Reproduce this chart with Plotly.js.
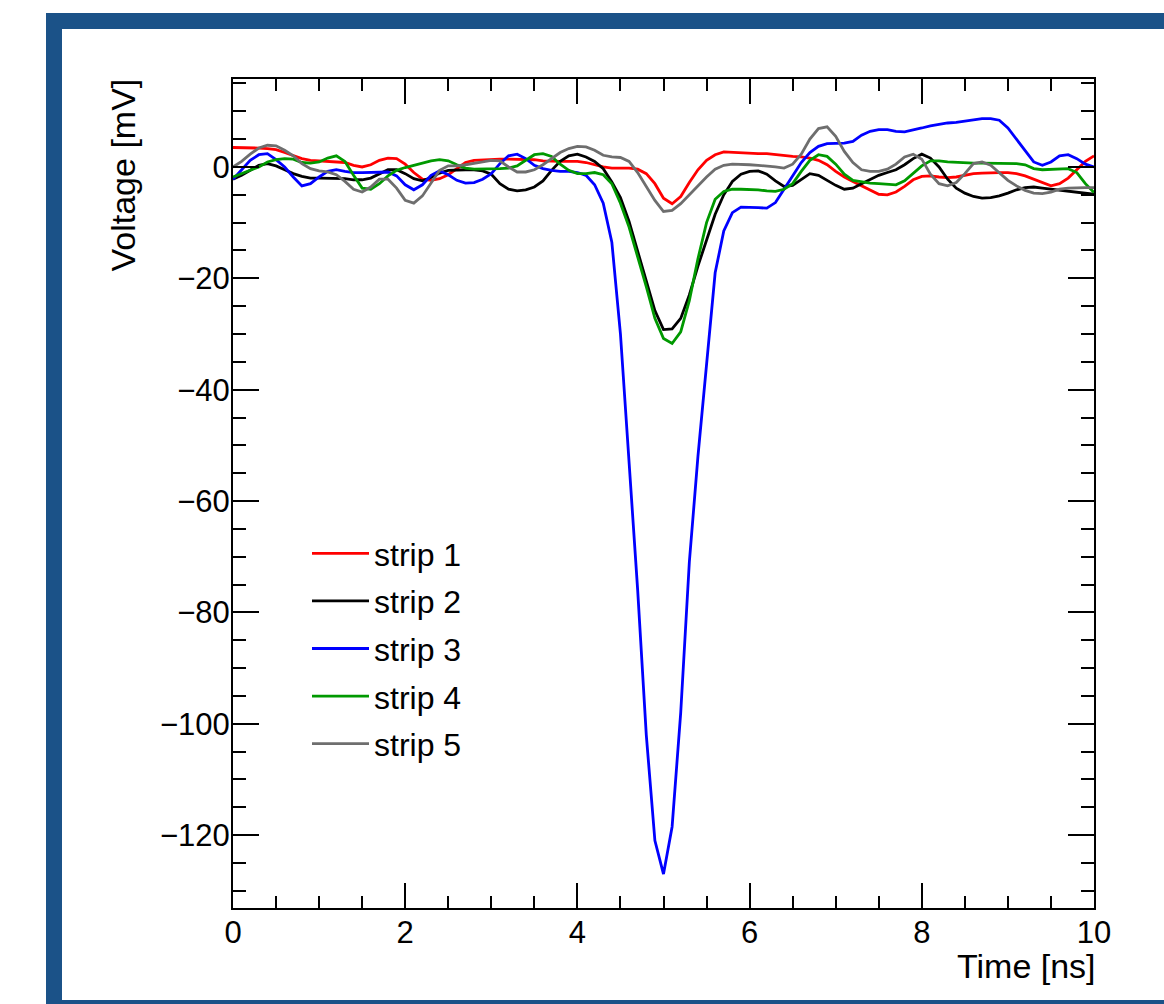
<!DOCTYPE html>
<html>
<head>
<meta charset="utf-8">
<script src="https://cdn.plot.ly/plotly-3.0.1.min.js"></script>
<style>
  html, body { margin: 0; padding: 0; background: #ffffff; overflow: hidden; width: 1164px; height: 1004px; }
  #frame { position: absolute; left: 46px; top: 13px; width: 1200px; height: 971px; border: 16px solid #1b5288; background: #ffffff; }
  #chart { position: absolute; left: 0; top: 0; width: 1164px; height: 1004px; }
</style>
</head>
<body>
<div id="frame"></div>
<div id="chart"></div>
<script>
const time = [0.0,0.1,0.2,0.3,0.4,0.5,0.6,0.7,0.8,0.9,
  1.0,1.1,1.2,1.3,1.4,1.5,1.6,1.7,1.8,1.9,
  2.0,2.1,2.2,2.3,2.4,2.5,2.6,2.7,2.8,2.9,
  3.0,3.1,3.2,3.3,3.4,3.5,3.6,3.7,3.8,3.9,
  4.0,4.1,4.2,4.3,4.4,4.5,4.6,4.7,4.8,4.9,
  5.0,5.1,5.2,5.3,5.4,5.5,5.6,5.7,5.8,5.9,
  6.0,6.1,6.2,6.3,6.4,6.5,6.6,6.7,6.8,6.9,
  7.0,7.1,7.2,7.3,7.4,7.5,7.6,7.7,7.8,7.9,
  8.0,8.1,8.2,8.3,8.4,8.5,8.6,8.7,8.8,8.9,
  9.0,9.1,9.2,9.3,9.4,9.5,9.6,9.7,9.8,9.9,10.0];

const strip1 = [3.5,3.5,3.45,3.4,3.3,3.1,2.6,2.0,1.5,1.2,
  1.1,1.0,1.0,0.8,0.3,0.0,0.4,1.2,1.6,1.5,
  0.5,-1.0,-2.2,-2.4,-2.1,-1.4,-0.3,0.8,1.2,1.3,
  1.3,1.4,1.4,1.4,1.4,1.3,1.1,1.0,1.0,1.0,
  1.0,0.8,0.4,0.0,-0.2,-0.2,-0.2,-0.4,-1.2,-3.0,
  -5.6,-6.6,-5.3,-2.8,-0.5,1.2,2.2,2.7,2.6,2.5,
  2.4,2.4,2.4,2.2,2.0,1.9,1.8,1.6,1.2,0.4,
  -0.8,-1.8,-2.6,-3.4,-4.2,-4.9,-5.0,-4.5,-3.5,-2.3,
  -1.7,-1.6,-1.8,-1.9,-1.8,-1.5,-1.2,-1.1,-1.0,-1.0,
  -1.0,-1.2,-1.6,-2.2,-2.9,-3.4,-3.0,-2.0,-0.5,1.0,2.0];

const strip2 = [-2.2,-1.5,-0.6,0.3,0.6,0.2,-0.5,-1.2,-1.7,-2.0,
  -2.0,-2.0,-2.0,-2.1,-2.3,-2.3,-2.0,-1.2,-0.5,-0.5,
  -1.2,-2.1,-2.5,-1.9,-1.1,-0.6,-0.5,-0.5,-0.5,-0.7,
  -1.3,-3.0,-4.0,-4.3,-4.1,-3.6,-2.5,-0.6,1.0,2.0,
  2.3,1.8,1.0,-0.3,-2.7,-5.5,-9.8,-15.0,-20.5,-25.8,
  -29.2,-29.1,-27.2,-23.0,-17.8,-13.0,-8.5,-5.0,-2.6,-1.3,
  -0.8,-0.7,-1.3,-2.5,-3.5,-3.3,-2.3,-1.2,-1.5,-2.4,
  -3.3,-4.0,-3.8,-3.0,-2.2,-1.5,-1.0,-0.5,0.4,1.5,
  2.3,1.6,0.0,-2.2,-3.8,-4.7,-5.3,-5.6,-5.5,-5.2,
  -4.7,-4.1,-3.7,-3.6,-3.8,-4.0,-4.1,-4.3,-4.5,-4.7,-4.9];

const strip3 = [-2.2,-0.5,1.2,2.2,2.4,1.3,0.0,-1.8,-3.4,-3.0,
  -1.8,-0.8,-0.5,-0.8,-1.0,-1.0,-1.0,-0.9,-0.9,-1.6,
  -3.2,-4.1,-3.2,-1.5,-0.7,-1.4,-2.4,-2.9,-2.8,-2.2,
  -1.2,0.6,2.0,2.3,1.5,0.3,-0.3,-0.6,-0.8,-0.8,
  -1.0,-1.5,-3.2,-6.5,-13.5,-30,-53,-76,-102,-121,
  -127,-118.5,-98,-71,-52,-36,-19,-11.5,-8.2,-7.2,
  -7.2,-7.3,-7.4,-6.4,-4.0,-1.5,0.8,2.6,3.7,4.2,
  4.3,4.3,4.6,5.7,6.4,6.7,6.7,6.4,6.3,6.6,
  7.0,7.4,7.7,7.9,8.0,8.2,8.4,8.7,8.7,8.4,
  7.0,5.0,2.8,0.9,0.3,0.9,2.0,2.2,1.5,0.5,0.0];

const strip4 = [-1.8,-1.2,-0.7,0.0,0.9,1.3,1.5,1.4,0.8,0.7,
  0.9,1.6,2.0,1.0,-1.5,-3.8,-4.0,-3.0,-1.6,-0.6,
  -0.1,0.3,0.7,1.1,1.3,1.1,0.4,-0.2,-0.4,-0.4,
  -0.4,-0.3,-0.2,0.2,1.2,2.2,2.4,1.9,0.5,-0.6,
  -1.2,-1.2,-1.0,-1.4,-3.0,-6.5,-10.8,-16,-21.5,-27.2,
  -30.8,-31.7,-29.6,-24,-16.5,-10,-5.8,-4.4,-4.0,-4.0,
  -4.0,-4.1,-4.3,-4.4,-4.0,-3.0,-0.8,1.2,2.2,1.9,
  0.5,-1.3,-2.4,-2.7,-2.9,-3.0,-3.1,-3.2,-2.5,-1.2,
  0.2,1.1,1.1,0.9,0.8,0.7,0.7,0.7,0.7,0.7,
  0.7,0.6,0.4,-0.3,-0.5,-0.4,-0.3,-0.3,-1.0,-3.0,-4.6];

const strip5 = [0.0,1.0,2.3,3.4,3.9,3.8,3.0,2.0,0.6,-0.3,
  -0.7,-0.9,-1.4,-2.6,-4.0,-4.5,-3.6,-2.2,-2.2,-3.8,
  -6.0,-6.5,-5.2,-3.0,-0.6,0.2,0.2,0.4,0.6,0.9,
  1.2,1.1,0.0,-0.9,-0.9,-0.5,0.4,1.5,2.6,3.3,
  3.7,3.6,3.0,2.1,1.8,1.7,1.0,-1.0,-3.5,-6.0,
  -8.0,-7.8,-6.6,-5.0,-3.3,-1.8,-0.4,0.3,0.5,0.5,
  0.4,0.3,0.2,0.0,-0.2,0.5,2.3,5.0,6.9,7.2,
  5.5,2.8,0.8,-0.5,-0.8,-0.8,-0.4,0.5,1.8,2.3,
  1.4,-1.3,-3.0,-3.4,-2.8,-1.2,0.6,0.9,0.3,-1.0,
  -2.4,-3.4,-4.2,-4.7,-4.8,-4.5,-4.0,-3.8,-3.7,-3.7,-3.7];

const names = ["strip 1","strip 2","strip 3","strip 4","strip 5"];
const colors = ["#ff0000","#000000","#0000ff","#009900","#6e6e6e"];
const series = [strip1, strip2, strip3, strip4, strip5];

const traces = series.map((vals, i) => ({
  x: time, y: vals, type: "scatter", mode: "lines",
  name: names[i], legendgroup: "g" + i,
  line: { color: colors[i], width: 2.8 }
}));

const font = "'Liberation Sans', Arial, Helvetica, sans-serif";

const layout = {
  width: 1164, height: 1004,
  margin: { l: 233, r: 70, t: 79, b: 96, pad: 0 },
  paper_bgcolor: "rgba(0,0,0,0)",
  plot_bgcolor: "rgba(0,0,0,0)",
  font: { family: font, color: "#000000", size: 31 },
  showlegend: true,
  legend: {
    x: (307 - 233) / 861, y: (908 - 526) / 829, xanchor: "left", yanchor: "top",
    bgcolor: "rgba(0,0,0,0)", borderwidth: 0,
    font: { family: font, size: 32, color: "#000000" },
    itemwidth: 57, tracegroupgap: 3, traceorder: "grouped"
  },
  xaxis: {
    range: [0, 10], dtick: 2, tick0: 0,
    ticks: "inside", ticklen: 25, tickwidth: 2, tickcolor: "#000000",
    showline: true, linewidth: 2, linecolor: "#000000", mirror: "ticks",
    showgrid: false, zeroline: false, ticklabelstandoff: -4,
    tickfont: { family: font, size: 31, color: "#000000" },
    minor: { dtick: 0.5, ticks: "inside", ticklen: 12, tickwidth: 2, tickcolor: "#000000", showgrid: false }
  },
  yaxis: {
    range: [-133.1, 15.8], dtick: 20, tick0: 0,
    ticks: "inside", ticklen: 26, tickwidth: 2, tickcolor: "#000000",
    showline: true, linewidth: 2, linecolor: "#000000", mirror: "ticks",
    showgrid: false, zeroline: false, ticklabelstandoff: -5,
    tickfont: { family: font, size: 31, color: "#000000" },
    minor: { dtick: 5, ticks: "inside", ticklen: 13, tickwidth: 2, tickcolor: "#000000", showgrid: false }
  },
  annotations: [
    { text: "Time [ns]", xref: "paper", yref: "paper", x: 1, y: (908 - 966) / 829,
      xanchor: "right", yanchor: "middle", xshift: 3, borderpad: 0, showarrow: false,
      font: { family: font, size: 34, color: "#000000" } },
    { text: "Voltage [mV]", xref: "paper", yref: "paper", x: (122 - 233) / 861, y: 1,
      xanchor: "center", yanchor: "top", yshift: 2, textangle: -90, showarrow: false,
      font: { family: font, size: 34, color: "#000000" } }
  ]
};

Plotly.newPlot("chart", traces, layout, { displayModeBar: false, staticPlot: true });
</script>
</body>
</html>
